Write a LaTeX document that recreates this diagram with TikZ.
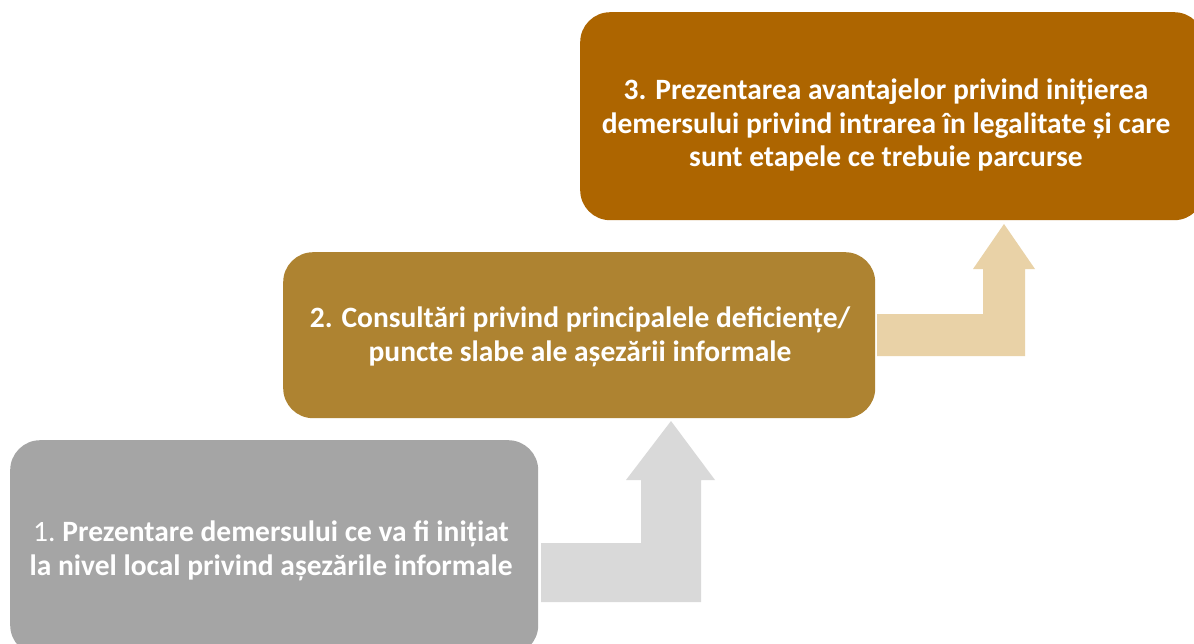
\documentclass[tikz,border=0pt]{standalone}
\usepackage{fontspec}
\setmainfont{Carlito}
\definecolor{cgray}{HTML}{A5A5A5}
\definecolor{cgold}{HTML}{AE8331}
\definecolor{cbrown}{HTML}{AD6500}
\definecolor{agray}{HTML}{D9D9D9}
\definecolor{atan}{HTML}{E9D2A7}
\tikzset{
  stepbox/.style={rectangle, rounded corners=30pt, draw=none, anchor=north west, inner sep=0pt},
  steptext/.style={text=white, align=center, font=\fontsize{29.5}{33.5}\selectfont\bfseries},
}
\begin{document}
\begin{tikzpicture}[x=1pt,y=-1pt]
\useasboundingbox (0,0) rectangle (1194,643);
\fill[white] (0,0) rectangle (1194,643);
% boxes
\node[stepbox, fill=cgray, minimum width=528pt, minimum height=215pt] (b1) at (10,440) {};
\node[stepbox, fill=cgold, minimum width=592pt, minimum height=166pt] (b2) at (283,252) {};
\node[stepbox, fill=cbrown, minimum width=624pt, minimum height=208pt] (b3) at (580,12) {};
% bent-up arrows
\fill[agray] (541,543) -- (641,543) -- (641,480) -- (626,480) -- (671,421) -- (715,480) -- (701,480) -- (701,602) -- (541,602) -- cycle;
\fill[atan] (877,314) -- (983,314) -- (983,269) -- (973,269) -- (1004,224) -- (1035,269) -- (1025,269) -- (1025,356) -- (877,356) -- cycle;
% texts
\node[steptext] (t1) at (271,551) {{\mdseries 1.}\hspace{-2pt} Prezentare demersului ce va fi inițiat\\la nivel local privind așezările informale};
\node[steptext] (t2) at (580,337) {2. Consultări privind principalele deficiențe/\\puncte slabe ale așezării informale};
\node[steptext] (t3) at (886,125) {3. Prezentarea avantajelor privind inițierea\\demersului privind intrarea în legalitate și care\\sunt etapele ce trebuie parcurse};
\end{tikzpicture}
\end{document}
